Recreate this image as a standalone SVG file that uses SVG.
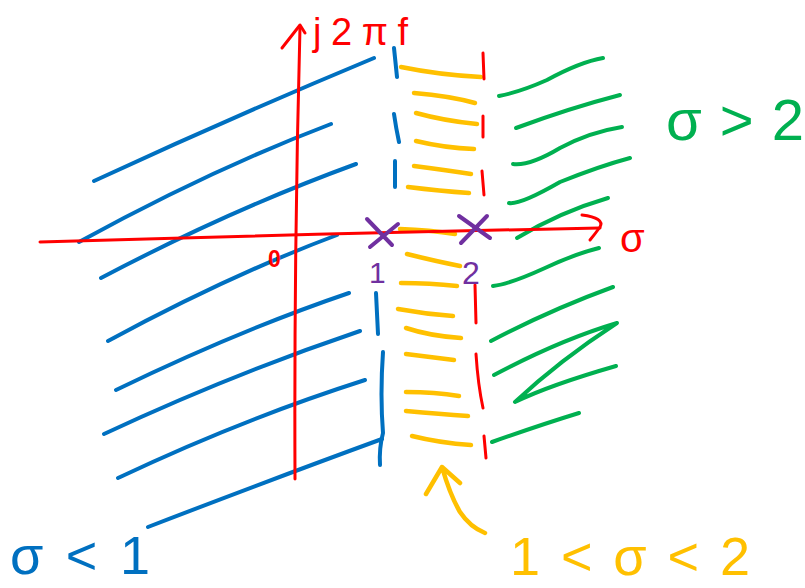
<svg xmlns="http://www.w3.org/2000/svg" width="805" height="588" viewBox="0 0 805 588">
<style>
.s{fill:none;stroke-linecap:round;stroke-linejoin:round}
.b{stroke:#0070C0;stroke-width:4}
.r{stroke:#FF0000;stroke-width:3}
.y{stroke:#FFC000;stroke-width:4.5}
.g{stroke:#00B050;stroke-width:4}
.p{stroke:#7030A0;stroke-width:4}
.t{font-family:"Liberation Sans","DejaVu Sans",sans-serif}
</style>
<rect width="805" height="588" fill="#fff"/>
<g id="region-left">
<path class="s b" d="M94,181 Q230,118 374,58"/>
<path class="s b" d="M79,242 Q210,170 331,124"/>
<path class="s b" d="M101,278 Q230,210 356,164"/>
<path class="s b" d="M108,341 Q230,275 337,235"/>
<path class="s b" d="M116,390 Q240,330 349,293"/>
<path class="s b" d="M104,434 Q230,375 360,331"/>
<path class="s b" d="M118,478 Q240,420 365,380"/>
<path class="s b" d="M148,527 Q270,480 382,439"/>
<path class="s b" d="M394,48 L397,77 M394,114 Q396,128 399,142 M395,161 L395,187 M376,293 L378,334"/>
<path class="s b" d="M383,352 Q380,395 383,433 Q379,448 380,465"/>
<text class="t" x="10" y="574" font-size="54" fill="#0070C0" textLength="140" lengthAdjust="spacing">σ&lt;1</text>
</g>
<g id="region-middle">
<path class="s y" d="M401,67 Q440,75 481,77"/>
<path class="s y" d="M414,93 Q450,96 475,103"/>
<path class="s y" d="M416,113 Q445,121 477,124"/>
<path class="s y" d="M416,141 Q445,148 474,149"/>
<path class="s y" d="M414,166 Q445,170 471,174"/>
<path class="s y" d="M408,187 Q440,191 469,193"/>
<path class="s y" d="M400,229 Q430,230 455,234"/>
<path class="s y" d="M407,254 Q435,261 460,266"/>
<path class="s y" d="M401,283 Q430,283 457,286"/>
<path class="s y" d="M398,309 Q425,314 453,316"/>
<path class="s y" d="M406,328 Q430,336 461,338"/>
<path class="s y" d="M406,354 Q430,357 454,360"/>
<path class="s y" d="M406,392 Q435,392 459,396"/>
<path class="s y" d="M406,411 Q440,414 468,416"/>
<path class="s y" d="M412,436 Q440,443 471,445"/>
<path class="s y" d="M426,494 L442,467 L460,483 M442,467 Q450,495 460,512 Q470,527 485,533"/>
<text class="t" x="510" y="575" font-size="54" fill="#FFC000" textLength="240" lengthAdjust="spacing">1&lt;σ&lt;2</text>
</g>
<g id="region-right">
<path class="s g" d="M499,96 Q520,92 547,80 Q580,62 603,58"/>
<path class="s g" d="M516,128 Q570,108 620,95"/>
<path class="s g" d="M513,164 Q530,166 560,148 Q590,132 622,127"/>
<path class="s g" d="M509,203 Q520,205 560,182 Q600,166 630,158"/>
<path class="s g" d="M517,238 Q560,212 608,198"/>
<path class="s g" d="M493,286 Q510,284 545,268 Q575,254 599,248"/>
<path class="s g" d="M491,341 Q550,310 613,287"/>
<path class="s g" d="M494,375 Q560,340 617,323 Q560,360 515,402 Q550,385 616,366"/>
<path class="s g" d="M492,442 Q540,425 579,413"/>
<text class="t" x="666" y="140" font-size="58" fill="#00B050" textLength="138" lengthAdjust="spacing">σ&gt;2</text>
</g>
<g id="axes">
<path class="s r" d="M483,53 L484,79 M483,116 L483,137 M482,171 L484,195 M475,285 L476,323 M476,354 Q478,385 483,408 M484,436 L486,458"/>
<path class="s r" d="M295,479 Q294,250 300,27"/>
<path class="s r" d="M282,48 L300,25 L305,33"/>
<path class="s r" d="M40,242 Q300,234 600,228"/>
<path class="s r" d="M582,215 Q605,218 600,227 Q595,234 590,240"/>
<text class="t" x="313" y="45" font-size="38" fill="#FF0000" textLength="95" lengthAdjust="spacing">j2πf</text>
<text class="t" x="620" y="252" font-size="40" fill="#FF0000">σ</text>
<text class="t" x="268" y="267" font-size="23" font-weight="bold" fill="#FF0000">0</text>
</g>
<g id="poles">
<path class="s p" d="M367,219 L392,245 M398,224 L370,247"/>
<path class="s p" d="M459,216 L490,238 M487,216 L461,243"/>
<text class="t" x="369" y="283" font-size="30" fill="#7030A0">1</text>
<text class="t" x="462" y="284" font-size="32" fill="#7030A0">2</text>
</g>
</svg>
